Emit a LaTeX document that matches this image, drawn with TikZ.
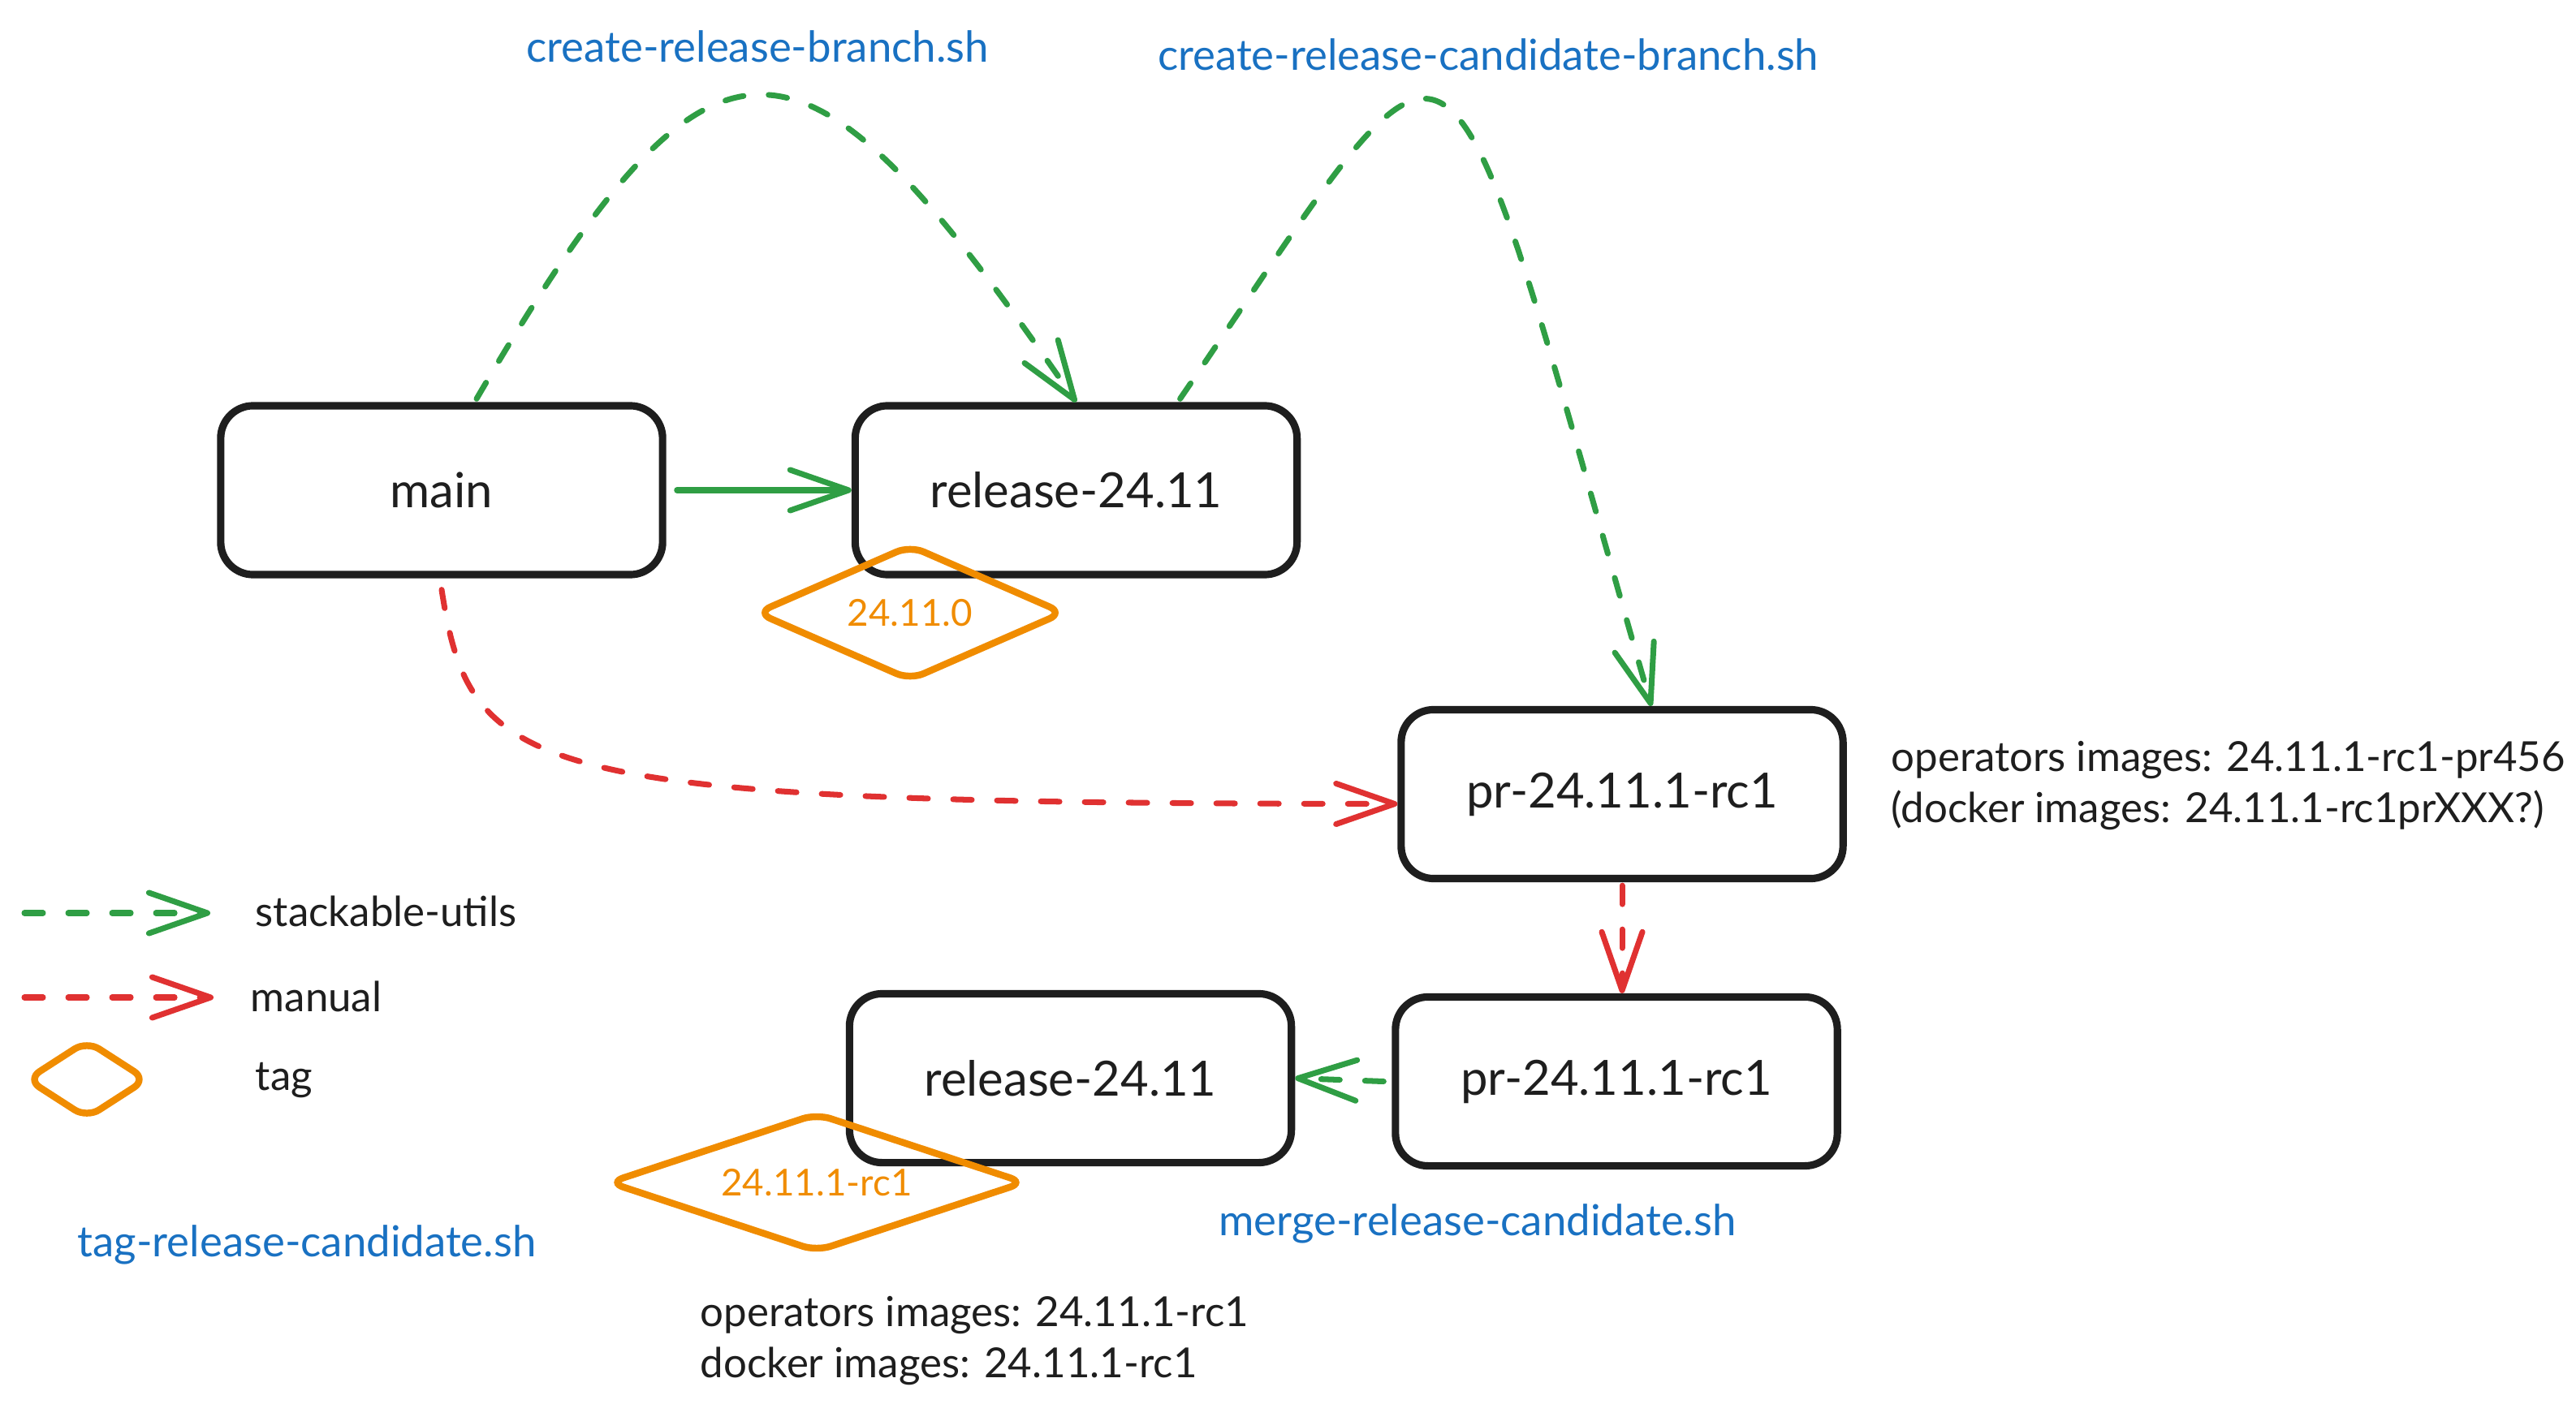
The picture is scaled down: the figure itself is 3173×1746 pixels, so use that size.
\documentclass[tikz,border=0pt]{standalone}
\usepackage{fontspec}
\setmainfont{Lato}
\usetikzlibrary{arrows.meta,shapes.geometric,calc}
\definecolor{exgreen}{HTML}{2F9E44}
\definecolor{exred}{HTML}{E03131}
\definecolor{exorange}{HTML}{F08C00}
\definecolor{exblue}{HTML}{1971C2}
\definecolor{exblack}{HTML}{1E1E1E}
\begin{document}
\begin{tikzpicture}[x=0.01cm,y=-0.01cm,
  box/.style={draw=exblack, line width=2.6pt, rounded corners=0.4cm, minimum width=5.44cm, minimum height=2.08cm, inner sep=0pt, text=exblack, font=\fontsize{17}{21}\selectfont},
  tagshape/.style={diamond, draw=exorange, line width=2.4pt, rounded corners=0.18cm, inner sep=0pt, text=exorange, font=\fontsize{13}{16}\selectfont},
  conn/.style={line width=2pt, line cap=round, -{Straight Barb[round,length=0.72cm,width=0.5cm]}},
  dashedline/.style={dash pattern=on 0.23cm off 0.31cm},
  script/.style={text=exblue, inner sep=0pt, font=\fontsize{15}{18}\selectfont},
  note/.style={text=exblack, align=left, anchor=west, inner sep=0pt, font=\fontsize{14.5}{18}\selectfont},
]
\useasboundingbox (0,0) rectangle (3173,1746);

% boxes
\node[box] (main) at (544,604) {main};
\node[box] (rel1) at (1325.5,604) {release-24.11};
\node[box] (pr1) at (1998,978.5) {pr-24.11.1-rc1};
\node[box] (rel2) at (1318.5,1328.5) {release-24.11};
\node[box] (pr2) at (1991,1332.5) {pr-24.11.1-rc1};

% tags
\node[tagshape, shape aspect=2.26, minimum width=3.8cm, minimum height=1.68cm] (tag1) at (1121,755) {24.11.0};
\node[tagshape, shape aspect=3, minimum width=5.14cm, minimum height=1.72cm] (tag2) at (1006,1457) {24.11.1-rc1};

% connectors
\draw[conn, exgreen] ([xshift=0.13cm]main.east) -- (rel1.west);
\draw[conn, exgreen, dashedline] ([xshift=0.43cm,yshift=0.04cm]main.north) .. controls (885,-19) and (986,3) .. (rel1.north);
\draw[conn, exgreen, dashedline] ([xshift=1.28cm,yshift=0.04cm]rel1.north) .. controls (1817,-39) and (1764,-68) .. ([xshift=0.36cm]pr1.north);
\draw[conn, exred, dashedline] ([yshift=-0.14cm]main.south) .. controls (580,960) and (650,990) .. ([yshift=-0.12cm]pr1.west);
\draw[conn, exred, dashedline] ([yshift=-0.04cm]pr1.south) -- (pr1.south |- pr2.north);
\draw[conn, exgreen, dashedline] ([xshift=-0.1cm]pr2.west) -- (rel2.east);

% script labels
\node[script] (lcrb) at (933,57) {create-release-branch.sh};
\node[script] (lcrcb) at (1833,67) {create-release-candidate-branch.sh};
\node[script] (lmrc) at (1820,1508) {merge-release-candidate.sh};
\node[script] (ltrc) at (378,1534) {tag-release-candidate.sh};

% notes
\node[note] (n1) at (2329,968) {operators images: 24.11.1-rc1-pr456\\(docker images: 24.11.1-rc1prXXX?)};
\node[note] (n2) at (862,1652) {operators images: 24.11.1-rc1\\docker images: 24.11.1-rc1};

% legend
\coordinate (lg1a) at (30,1125);
\coordinate (lg1b) at (259,1125);
\coordinate (lg2a) at (30,1229);
\coordinate (lg2b) at (263,1229);
\draw[conn, exgreen, dashedline] (lg1a) -- (lg1b);
\draw[conn, exred, dashedline] (lg2a) -- (lg2b);
\node[tagshape, shape aspect=1.6, minimum width=1.5cm, minimum height=0.98cm] (lgtag) at (107,1330) {};
\node[note] (lgt1) at (314,1123) {stackable-utils};
\node[note] (lgt2) at (308,1228) {manual};
\node[note] (lgt3) at (314,1331) {tag};
\end{tikzpicture}
\end{document}
